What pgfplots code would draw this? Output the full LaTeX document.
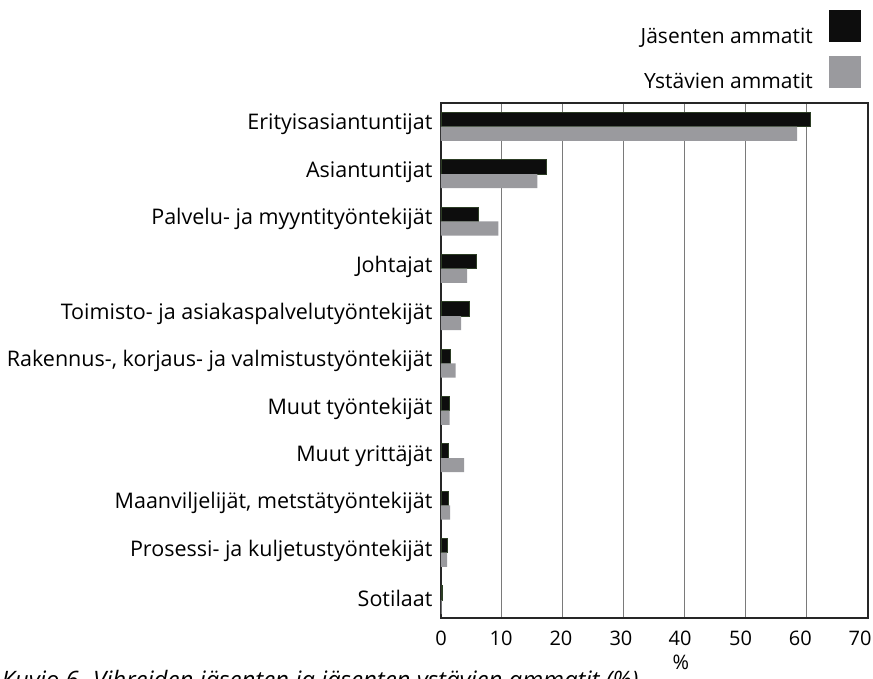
\documentclass[border=0pt]{standalone}
\usepackage{pgfplots}
\pgfplotsset{compat=1.18}
\usepackage{fontspec}
\setmainfont{Open Sans}
\definecolor{barblack}{HTML}{0D0D0D}
\definecolor{bargray}{HTML}{9A9A9E}
\definecolor{edgegreen}{HTML}{2C3D24}
\definecolor{gridgray}{HTML}{7A7A7A}
\begin{document}
\begin{tikzpicture}[x=1pt,y=1pt]
\path[use as bounding box] (0,0) rectangle (873,678);
\begin{axis}[
  at={(441pt,60pt)}, anchor=south west,
  scale only axis, width=427pt, height=515pt,
  xbar, xmin=0, xmax=70, xtick={0,10,...,70}, xticklabels={},
  extra x ticks={0,9.84,19.67,29.5,39.2,49.1,58.9,68.7},
  extra x tick labels={0,10,20,30,40,50,60,70},
  extra x tick style={grid=none, major tick length=0pt,
    xticklabel style={anchor=base, yshift=-27pt}},
  ymin=-0.5, ymax=10.38, y dir=reverse,
  ytick={0,...,10},
  yticklabels={Erityisasiantuntijat, Asiantuntijat, Palvelu- ja myyntityöntekijät, Johtajat, Toimisto- ja asiakaspalvelutyöntekijät, {Rakennus-, korjaus- ja valmistustyöntekijät}, Muut työntekijät, Muut yrittäjät, {Maanviljelijät, metstätyöntekijät}, Prosessi- ja kuljetustyöntekijät, Sotilaat},
  major tick length=0pt,
  xmajorgrids, grid style={gridgray, line width=1pt},
  axis line style={black!85, line width=1.3pt},
  bar width=0.3,
  /pgf/number format/assume math mode=true,
  xticklabel style={font=\fontsize{20}{22}\selectfont},
  yticklabel style={font=\fontsize{21.5}{23}\selectfont, xshift=-5pt, yshift=2pt},
  legend plot pos=right,
  legend cell align=right,
  legend style={draw=none, fill=none, at={(0.9836,1.021)}, anchor=south east, inner sep=0pt, row sep=9pt, font=\fontsize{21}{23}\selectfont},
  legend image code/.code={\path[draw=none, fill=none] (0pt,-6pt) rectangle (46pt,26pt); \fill[#1, draw=none] (14pt,-6pt) rectangle (46pt,26pt);},
  clip=false,
]
\addplot[fill=barblack, draw=edgegreen, line width=0.8pt, bar shift=-0.15] coordinates {
  (60.6,0) (17.2,1) (6.2,2) (5.8,3) (4.6,4) (1.6,5) (1.3,6) (1.2,7) (1.2,8) (1.0,9) (0.2,10)};
\addlegendentry{Jäsenten ammatit}
\addplot[fill=bargray, draw=none, bar shift=0.15] coordinates {
  (58.4,0) (15.8,1) (9.4,2) (4.3,3) (3.3,4) (2.4,5) (1.4,6) (3.8,7) (1.5,8) (1.0,9) (0.1,10)};
\addlegendentry{Ystävien ammatit}
\node[font=\fontsize{20}{22}\selectfont] at (axis description cs:0.562,-0.087) {\%};
\end{axis}
\node[anchor=base west, font=\itshape\fontsize{24}{26}\selectfont] at (-2,-10) {Kuvio 6. Vihreiden jäsenten ja jäsenten ystävien ammatit (\%)};
\end{tikzpicture}
\end{document}
